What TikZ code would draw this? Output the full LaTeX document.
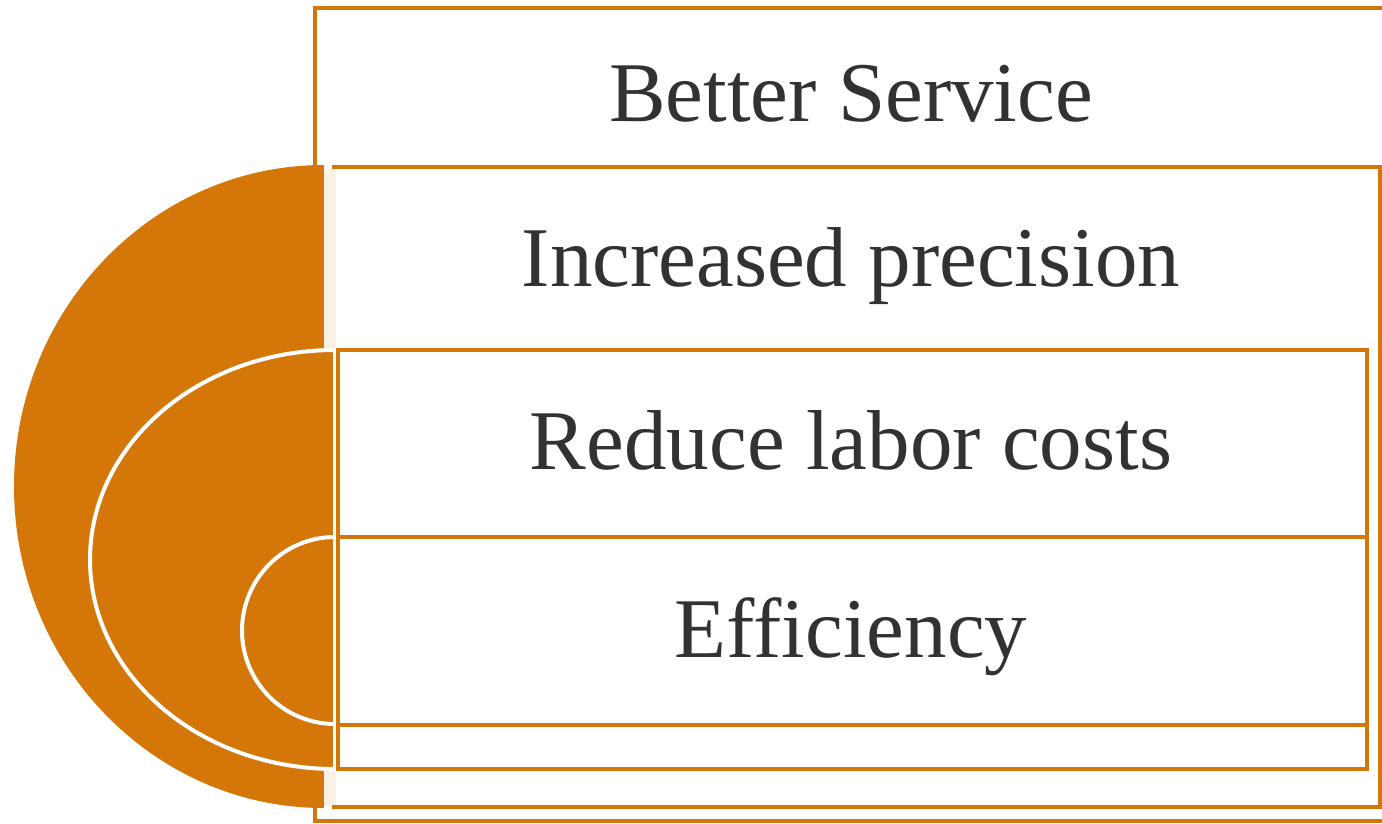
\documentclass[tikz,border=0pt]{standalone}
\usepackage{fontspec}
\setmainfont{Liberation Serif}
\definecolor{orng}{RGB}{212,119,8}
\definecolor{cream}{RGB}{250,240,228}
\definecolor{txt}{RGB}{50,50,48}
\begin{document}
\begin{tikzpicture}[x=1pt,y=-1pt,
  box/.style={draw=orng,line width=4pt},
  halfel/.style={fill=orng,draw=white,line width=4pt},
  lbl/.style={text=txt,font=\fontsize{85}{100}\selectfont,anchor=base,inner sep=0pt}]
\useasboundingbox (0,0) rectangle (1382,823);
\fill[white] (0,0) rectangle (1382,823);
% outer rectangle
\draw[box] (315,8) rectangle (1400,821);
% big half ellipse
\fill[orng] (324,165) arc[start angle=90,end angle=270,x radius=310pt,y radius=321.5pt] -- cycle;
% rect B
\draw[box,fill=white] (334,167) rectangle (1380,807);
\fill[cream] (324,169) rectangle (336,805);
% medium half ellipse
\path[halfel] (335,350) arc[start angle=90,end angle=270,x radius=245pt,y radius=209.5pt] -- cycle;
\draw[box,fill=white] (338,350) rectangle (1367,769);
% small half ellipse
\path[halfel] (335,537) arc[start angle=90,end angle=270,x radius=93pt,y radius=93.5pt] -- cycle;
\draw[box,fill=white] (338,537) rectangle (1367,725);
% labels
\node[lbl] (t1) at (851,121) {Better Service};
\node[lbl] (t2) at (851,286) {Increased precision};
\node[lbl] (t3) at (851,469) {Reduce labor costs};
\node[lbl] (t4) at (851,657) {Efficiency};
\end{tikzpicture}
\end{document}
